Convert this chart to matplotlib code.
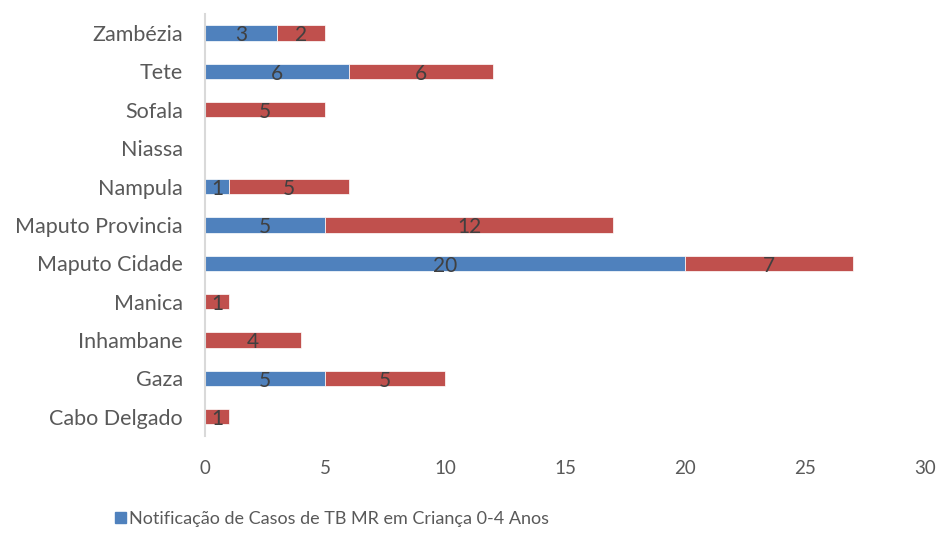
import matplotlib.pyplot as plt
import numpy as np
from matplotlib.patches import Patch

plt.rcParams['font.family'] = ['Lato', 'DejaVu Sans']

provincias = ['Cabo Delgado', 'Gaza', 'Inhambane', 'Manica', 'Maputo Cidade',
              'Maputo Provincia', 'Nampula', 'Niassa', 'Sofala', 'Tete', 'Zambézia']
criancas_0_4 = [0, 5, 0, 0, 20, 5, 1, 0, 0, 6, 3]
outros = [1, 5, 4, 1, 7, 12, 5, 0, 5, 6, 2]
legenda_azul = 'Notificação de Casos de TB MR em Criança 0-4 Anos'

azul = '#4F81BD'
vermelho = '#C0504D'

fig = plt.figure(figsize=(9.4, 5.54), dpi=100)
ax = fig.add_axes([0.218, 0.213, 0.766, 0.762])

y = np.arange(len(provincias))
b1 = ax.barh(y, criancas_0_4, height=0.4, color=azul, edgecolor='white', linewidth=0.5)
b2 = ax.barh(y, outros, left=criancas_0_4, height=0.4, color=vermelho,
             edgecolor='white', linewidth=0.5)

for bars in (b1, b2):
    for bar in bars:
        w = bar.get_width()
        if w > 0:
            ax.text(bar.get_x() + w / 2, bar.get_y() + bar.get_height() / 2 - 0.06,
                    f'{w:g}', ha='center', va='center', fontsize=15, color='#404040')

ax.set_xlim(0, 30)
ax.set_ylim(-0.5, len(provincias) - 0.5)
ax.set_yticks(y)
ax.set_yticklabels(provincias, fontsize=15.5, color='#595959')
ax.set_xticks(np.arange(0, 31, 5))
ax.tick_params(axis='x', labelsize=13.5, colors='#595959', length=0, pad=17)
ax.tick_params(axis='y', length=0, pad=16)

for s in ['top', 'right', 'bottom']:
    ax.spines[s].set_visible(False)
ax.spines['left'].set_color('#D9D9D9')
ax.spines['left'].set_linewidth(1.5)

fig.legend(handles=[Patch(color=azul, label=legenda_azul)], loc='lower left',
           bbox_to_anchor=(0.105, 0.02), frameon=False, fontsize=13,
           handlelength=0.6, handleheight=0.6, handletextpad=0.2, labelcolor='#595959')

fig.savefig('out.png')
